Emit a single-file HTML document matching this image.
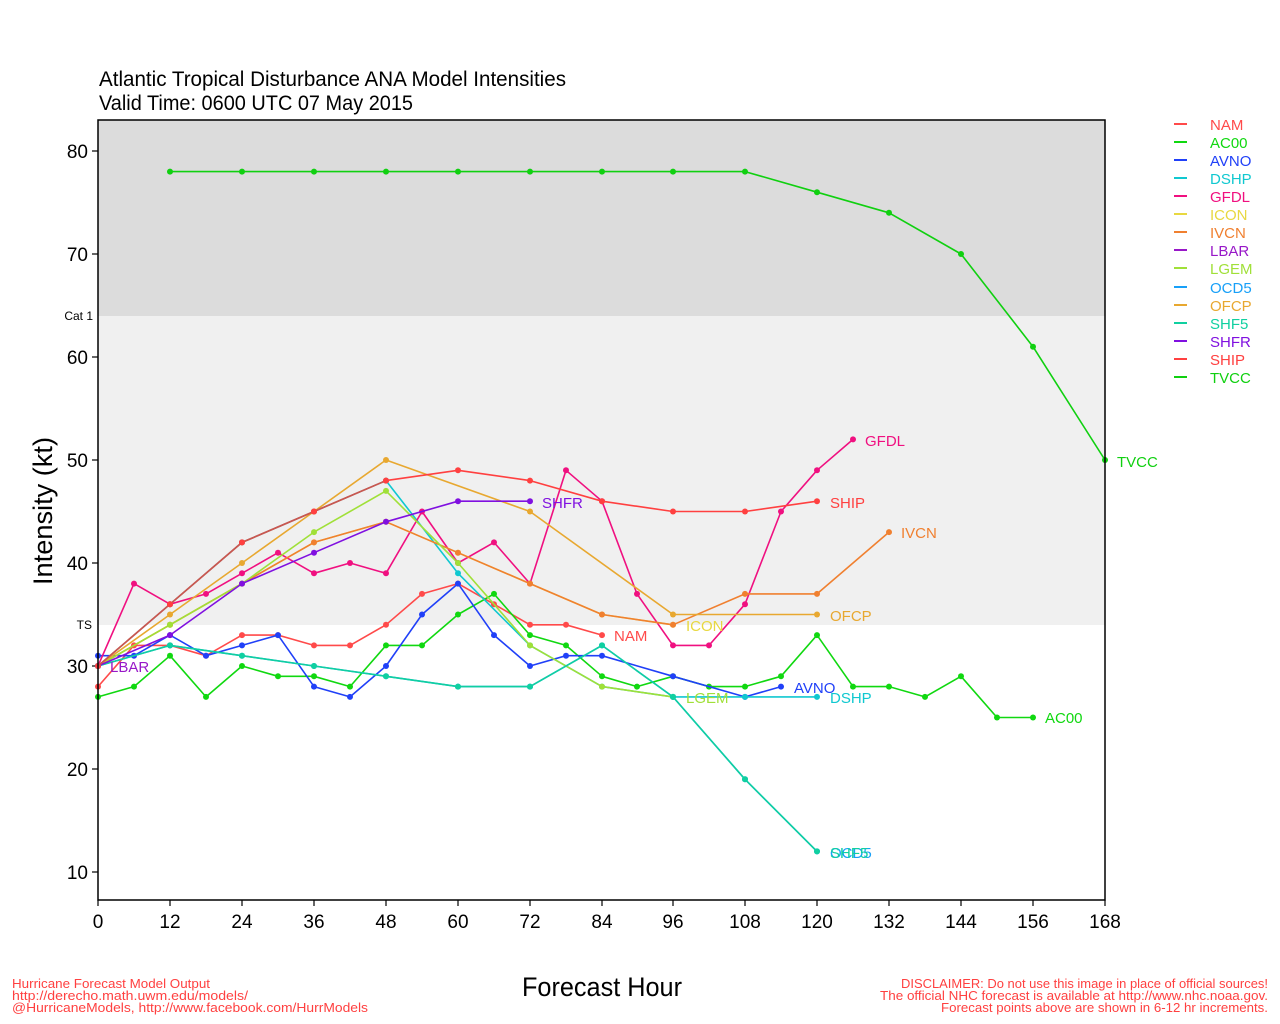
<!DOCTYPE html>
<html><head><meta charset="utf-8"><style>
html,body{margin:0;padding:0;background:#fff;}
svg{display:block;}
text{font-family:"Liberation Sans",sans-serif;}
</style></head><body>
<svg width="1280" height="1024" viewBox="0 0 1280 1024" xmlns="http://www.w3.org/2000/svg">
<defs>
<marker id="mNAM" markerWidth="8" markerHeight="8" refX="4" refY="4" markerUnits="userSpaceOnUse"><circle cx="4" cy="4" r="3" fill="#ff4a4a"/></marker>
<marker id="mAC00" markerWidth="8" markerHeight="8" refX="4" refY="4" markerUnits="userSpaceOnUse"><circle cx="4" cy="4" r="3" fill="#10d810"/></marker>
<marker id="mAVNO" markerWidth="8" markerHeight="8" refX="4" refY="4" markerUnits="userSpaceOnUse"><circle cx="4" cy="4" r="3" fill="#2040f8"/></marker>
<marker id="mDSHP" markerWidth="8" markerHeight="8" refX="4" refY="4" markerUnits="userSpaceOnUse"><circle cx="4" cy="4" r="3" fill="#10c8d0"/></marker>
<marker id="mGFDL" markerWidth="8" markerHeight="8" refX="4" refY="4" markerUnits="userSpaceOnUse"><circle cx="4" cy="4" r="3" fill="#f01080"/></marker>
<marker id="mICON" markerWidth="8" markerHeight="8" refX="4" refY="4" markerUnits="userSpaceOnUse"><circle cx="4" cy="4" r="3" fill="#e8d840"/></marker>
<marker id="mIVCN" markerWidth="8" markerHeight="8" refX="4" refY="4" markerUnits="userSpaceOnUse"><circle cx="4" cy="4" r="3" fill="#f08030"/></marker>
<marker id="mLBAR" markerWidth="8" markerHeight="8" refX="4" refY="4" markerUnits="userSpaceOnUse"><circle cx="4" cy="4" r="3" fill="#9818c8"/></marker>
<marker id="mLGEM" markerWidth="8" markerHeight="8" refX="4" refY="4" markerUnits="userSpaceOnUse"><circle cx="4" cy="4" r="3" fill="#a0e038"/></marker>
<marker id="mOCD5" markerWidth="8" markerHeight="8" refX="4" refY="4" markerUnits="userSpaceOnUse"><circle cx="4" cy="4" r="3" fill="#18a0f8"/></marker>
<marker id="mOFCP" markerWidth="8" markerHeight="8" refX="4" refY="4" markerUnits="userSpaceOnUse"><circle cx="4" cy="4" r="3" fill="#e8a830"/></marker>
<marker id="mSHF5" markerWidth="8" markerHeight="8" refX="4" refY="4" markerUnits="userSpaceOnUse"><circle cx="4" cy="4" r="3" fill="#10d0a0"/></marker>
<marker id="mSHFR" markerWidth="8" markerHeight="8" refX="4" refY="4" markerUnits="userSpaceOnUse"><circle cx="4" cy="4" r="3" fill="#8010e0"/></marker>
<marker id="mSHIP" markerWidth="8" markerHeight="8" refX="4" refY="4" markerUnits="userSpaceOnUse"><circle cx="4" cy="4" r="3" fill="#ff4040"/></marker>
<marker id="mTVCC" markerWidth="8" markerHeight="8" refX="4" refY="4" markerUnits="userSpaceOnUse"><circle cx="4" cy="4" r="3" fill="#10d010"/></marker>
</defs>

<!-- Title -->
<text x="99" y="86" font-size="21" fill="#000" textLength="467" lengthAdjust="spacingAndGlyphs">Atlantic Tropical Disturbance ANA Model Intensities</text>
<text x="99" y="110" font-size="21" fill="#000" textLength="314" lengthAdjust="spacingAndGlyphs">Valid Time: 0600 UTC 07 May 2015</text>

<!-- Background bands -->
<rect x="98" y="120" width="1007" height="196" fill="#dcdcdc"/>
<rect x="98" y="316" width="1007" height="309" fill="#f0f0f0"/>

<!-- Category labels -->
<text x="93" y="320" font-size="12" text-anchor="end" fill="#000">Cat 1</text>
<text x="92" y="629" font-size="12" text-anchor="end" fill="#000">TS</text>

<!-- Y ticks -->
<g stroke="#000" stroke-width="1.2">
<line x1="92" y1="872" x2="98" y2="872"/>
<line x1="92" y1="769" x2="98" y2="769"/>
<line x1="92" y1="666" x2="98" y2="666"/>
<line x1="92" y1="563" x2="98" y2="563"/>
<line x1="92" y1="460" x2="98" y2="460"/>
<line x1="92" y1="357" x2="98" y2="357"/>
<line x1="92" y1="254" x2="98" y2="254"/>
<line x1="92" y1="151" x2="98" y2="151"/>
</g>
<g font-size="19" text-anchor="end" fill="#000">
<text x="88" y="879">10</text>
<text x="88" y="776">20</text>
<text x="88" y="673">30</text>
<text x="88" y="570">40</text>
<text x="88" y="467">50</text>
<text x="88" y="364">60</text>
<text x="88" y="261">70</text>
<text x="88" y="158">80</text>
</g>

<!-- X ticks -->
<g stroke="#000" stroke-width="1.2">
<line x1="98" y1="900" x2="98" y2="906"/>
<line x1="170" y1="900" x2="170" y2="906"/>
<line x1="242" y1="900" x2="242" y2="906"/>
<line x1="314" y1="900" x2="314" y2="906"/>
<line x1="386" y1="900" x2="386" y2="906"/>
<line x1="458" y1="900" x2="458" y2="906"/>
<line x1="530" y1="900" x2="530" y2="906"/>
<line x1="602" y1="900" x2="602" y2="906"/>
<line x1="673" y1="900" x2="673" y2="906"/>
<line x1="745" y1="900" x2="745" y2="906"/>
<line x1="817" y1="900" x2="817" y2="906"/>
<line x1="889" y1="900" x2="889" y2="906"/>
<line x1="961" y1="900" x2="961" y2="906"/>
<line x1="1033" y1="900" x2="1033" y2="906"/>
<line x1="1105" y1="900" x2="1105" y2="906"/>
</g>
<g font-size="19" text-anchor="middle" fill="#000">
<text x="98" y="928">0</text>
<text x="170" y="928">12</text>
<text x="242" y="928">24</text>
<text x="314" y="928">36</text>
<text x="386" y="928">48</text>
<text x="458" y="928">60</text>
<text x="530" y="928">72</text>
<text x="602" y="928">84</text>
<text x="673" y="928">96</text>
<text x="745" y="928">108</text>
<text x="817" y="928">120</text>
<text x="889" y="928">132</text>
<text x="961" y="928">144</text>
<text x="1033" y="928">156</text>
<text x="1105" y="928">168</text>
</g>

<!-- Axis titles -->
<text x="0" y="0" font-size="27" text-anchor="middle" fill="#000" transform="translate(52,511) rotate(-90)" textLength="148" lengthAdjust="spacingAndGlyphs">Intensity (kt)</text>
<text x="602" y="996" font-size="27" text-anchor="middle" fill="#000" textLength="160" lengthAdjust="spacingAndGlyphs">Forecast Hour</text>

<!-- Series -->
<g fill="none" stroke-width="1.6" stroke-linejoin="round">
<polyline stroke="#ff4a4a" marker-start="url(#mNAM)" marker-mid="url(#mNAM)" marker-end="url(#mNAM)" points="98,686.6 134,645.4 170,645.4 206,655.7 242,635.1 278,635.1 314,645.4 350,645.4 386,624.8 422,593.9 458,583.6 494,604.2 530,624.8 566,624.8 602,635.1"/>
<polyline stroke="#10d810" marker-start="url(#mAC00)" marker-mid="url(#mAC00)" marker-end="url(#mAC00)" points="98,696.9 134,686.6 170,655.7 206,696.9 242,666 278,676.3 314,676.3 350,686.6 386,645.4 422,645.4 458,614.5 494,593.9 530,635.1 566,645.4 602,676.3 637,686.6 673,676.3 709,686.6 745,686.6 781,676.3 817,635.1 853,686.6 889,686.6 925,696.9 961,676.3 997,717.5 1033,717.5"/>
<polyline stroke="#2040f8" marker-start="url(#mAVNO)" marker-mid="url(#mAVNO)" marker-end="url(#mAVNO)" points="98,655.7 134,655.7 170,635.1 206,655.7 242,645.4 278,635.1 314,686.6 350,696.9 386,666 422,614.5 458,583.6 494,635.1 530,666 566,655.7 602,655.7 673,676.3 745,696.9 781,686.6"/>
<polyline stroke="#10c8d0" marker-start="url(#mDSHP)" marker-mid="url(#mDSHP)" marker-end="url(#mDSHP)" points="98,666 170,604.2 242,542.4 314,511.5 386,480.6 458,573.3 530,645.4 602,686.6 673,696.9 745,696.9 817,696.9"/>
<polyline stroke="#f01080" marker-start="url(#mGFDL)" marker-mid="url(#mGFDL)" marker-end="url(#mGFDL)" points="98,666 134,583.6 170,604.2 206,593.9 242,573.3 278,552.7 314,573.3 350,563 386,573.3 422,511.5 458,563 494,542.4 530,583.6 566,470.3 602,501.2 637,593.9 673,645.4 709,645.4 745,604.2 781,511.5 817,470.3 853,439.4"/>
<polyline stroke="#e8d840" marker-start="url(#mICON)" marker-mid="url(#mICON)" marker-end="url(#mICON)" points="98,666 170,624.8 242,583.6 314,542.4 386,521.8 458,552.7 530,583.6 602,614.5 673,624.8"/>
<polyline stroke="#f08030" marker-start="url(#mIVCN)" marker-mid="url(#mIVCN)" marker-end="url(#mIVCN)" points="98,666 170,624.8 242,583.6 314,542.4 386,521.8 458,552.7 530,583.6 602,614.5 673,624.8 745,593.9 817,593.9 889,532.1"/>
<circle cx="98" cy="666" r="3" fill="#9818c8"/>
<polyline stroke="#a0e038" marker-start="url(#mLGEM)" marker-mid="url(#mLGEM)" marker-end="url(#mLGEM)" points="98,666 170,624.8 242,583.6 314,532.1 386,490.9 458,563 530,645.4 602,686.6 673,696.9"/>
<polyline stroke="#18a0f8" marker-start="url(#mOCD5)" marker-mid="url(#mOCD5)" marker-end="url(#mOCD5)" points="98,666 170,645.4 242,655.7 314,666 386,676.3 458,686.6 530,686.6 602,645.4 673,696.9 745,779.3 817,851.4"/>
<polyline stroke="#e8a830" marker-start="url(#mOFCP)" marker-mid="url(#mOFCP)" marker-end="url(#mOFCP)" points="98,666 170,614.5 242,563 314,511.5 386,460 530,511.5 673,614.5 817,614.5"/>
<polyline stroke="#10d0a0" marker-start="url(#mSHF5)" marker-mid="url(#mSHF5)" marker-end="url(#mSHF5)" points="98,666 170,645.4 242,655.7 314,666 386,676.3 458,686.6 530,686.6 602,645.4 673,696.9 745,779.3 817,851.4"/>
<polyline stroke="#8010e0" marker-start="url(#mSHFR)" marker-mid="url(#mSHFR)" marker-end="url(#mSHFR)" points="98,666 170,635.1 242,583.6 314,552.7 386,521.8 458,501.2 530,501.2"/>
<polyline stroke="#ff4040" marker-start="url(#mSHIP)" marker-mid="url(#mSHIP)" marker-end="url(#mSHIP)" points="98,666 170,604.2 242,542.4 314,511.5 386,480.6 458,470.3 530,480.6 602,501.2 673,511.5 745,511.5 817,501.2"/>
<polyline stroke="#c85850" points="98,666 170,604.2 242,542.4 314,511.5 386,480.6"/>
<polyline stroke="#10d010" marker-start="url(#mTVCC)" marker-mid="url(#mTVCC)" marker-end="url(#mTVCC)" points="170,171.6 242,171.6 314,171.6 386,171.6 458,171.6 530,171.6 602,171.6 673,171.6 745,171.6 817,192.2 889,212.8 961,254 1033,346.7 1105,460"/>
</g>
<g fill="#ff4040">
<circle cx="170" cy="604.2" r="3"/><circle cx="242" cy="542.4" r="3"/><circle cx="314" cy="511.5" r="3"/><circle cx="386" cy="480.6" r="3"/>
</g>

<!-- Series end labels -->
<g font-size="15">
<text x="614" y="641" fill="#ff4a4a">NAM</text>
<text x="1045" y="723" fill="#10d810">AC00</text>
<text x="794" y="693" fill="#2040f8">AVNO</text>
<text x="830" y="703" fill="#10c8d0">DSHP</text>
<text x="865" y="446" fill="#f01080">GFDL</text>
<text x="686" y="631" fill="#e8d840">ICON</text>
<text x="901" y="538" fill="#f08030">IVCN</text>
<text x="110" y="672" fill="#9818c8">LBAR</text>
<text x="686" y="703" fill="#a0e038">LGEM</text>
<text x="830" y="858" fill="#18a0f8">OCD5</text>
<text x="830" y="621" fill="#e8a830">OFCP</text>
<text x="830" y="858" fill="#10d0a0">SHF5</text>
<text x="542" y="508" fill="#8010e0">SHFR</text>
<text x="830" y="508" fill="#ff4040">SHIP</text>
<text x="1117" y="467" fill="#10d010">TVCC</text>
</g>

<!-- Plot frame -->
<rect x="98" y="120" width="1007" height="780" fill="none" stroke="#000" stroke-width="1.5"/>

<!-- Legend -->
<g stroke-width="2">
<line x1="1174" y1="124" x2="1187" y2="124" stroke="#ff4a4a"/>
<line x1="1174" y1="142" x2="1187" y2="142" stroke="#10d810"/>
<line x1="1174" y1="160" x2="1187" y2="160" stroke="#2040f8"/>
<line x1="1174" y1="178" x2="1187" y2="178" stroke="#10c8d0"/>
<line x1="1174" y1="196" x2="1187" y2="196" stroke="#f01080"/>
<line x1="1174" y1="214" x2="1187" y2="214" stroke="#e8d840"/>
<line x1="1174" y1="232" x2="1187" y2="232" stroke="#f08030"/>
<line x1="1174" y1="250" x2="1187" y2="250" stroke="#9818c8"/>
<line x1="1174" y1="268" x2="1187" y2="268" stroke="#a0e038"/>
<line x1="1174" y1="287" x2="1187" y2="287" stroke="#18a0f8"/>
<line x1="1174" y1="305" x2="1187" y2="305" stroke="#e8a830"/>
<line x1="1174" y1="323" x2="1187" y2="323" stroke="#10d0a0"/>
<line x1="1174" y1="341" x2="1187" y2="341" stroke="#8010e0"/>
<line x1="1174" y1="359" x2="1187" y2="359" stroke="#ff4040"/>
<line x1="1174" y1="377" x2="1187" y2="377" stroke="#10d010"/>
</g>
<g font-size="15">
<text x="1210" y="130" fill="#ff4a4a">NAM</text>
<text x="1210" y="148" fill="#10d810">AC00</text>
<text x="1210" y="166" fill="#2040f8">AVNO</text>
<text x="1210" y="184" fill="#10c8d0">DSHP</text>
<text x="1210" y="202" fill="#f01080">GFDL</text>
<text x="1210" y="220" fill="#e8d840">ICON</text>
<text x="1210" y="238" fill="#f08030">IVCN</text>
<text x="1210" y="256" fill="#9818c8">LBAR</text>
<text x="1210" y="274" fill="#a0e038">LGEM</text>
<text x="1210" y="293" fill="#18a0f8">OCD5</text>
<text x="1210" y="311" fill="#e8a830">OFCP</text>
<text x="1210" y="329" fill="#10d0a0">SHF5</text>
<text x="1210" y="347" fill="#8010e0">SHFR</text>
<text x="1210" y="365" fill="#ff4040">SHIP</text>
<text x="1210" y="383" fill="#10d010">TVCC</text>
</g>

<!-- Footer -->
<g font-size="13" fill="#ff4040">
<text x="12" y="988" textLength="198" lengthAdjust="spacingAndGlyphs">Hurricane Forecast Model Output</text>
<text x="12" y="1000" textLength="236" lengthAdjust="spacingAndGlyphs">http://derecho.math.uwm.edu/models/</text>
<text x="12" y="1012" textLength="356" lengthAdjust="spacingAndGlyphs">@HurricaneModels, http://www.facebook.com/HurrModels</text>
<text x="901" y="988" textLength="367" lengthAdjust="spacingAndGlyphs">DISCLAIMER: Do not use this image in place of official sources!</text>
<text x="880" y="1000" textLength="388" lengthAdjust="spacingAndGlyphs">The official NHC forecast is available at http://www.nhc.noaa.gov.</text>
<text x="941" y="1012" textLength="327" lengthAdjust="spacingAndGlyphs">Forecast points above are shown in 6-12 hr increments.</text>
</g>
</svg>
</body></html>
